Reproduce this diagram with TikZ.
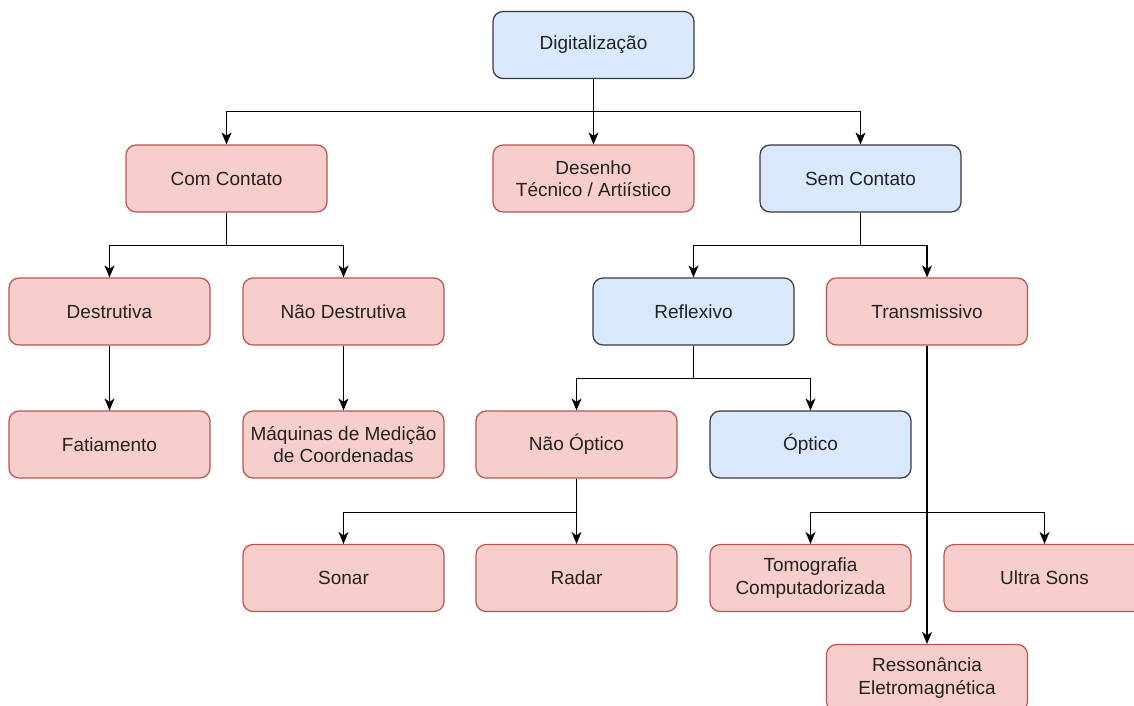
\documentclass[tikz,border=0pt]{standalone}
\usepackage{fontspec}
\setmainfont{Liberation Sans}
\usetikzlibrary{arrows.meta}
\definecolor{blueFill}{HTML}{DAE8FC}
\definecolor{blueLine}{HTML}{36393D}
\definecolor{redFill}{HTML}{F8CECC}
\definecolor{redLine}{HTML}{B85450}
\definecolor{textGray}{HTML}{222222}

\begin{document}
\begin{tikzpicture}
[x=1pt,y=-1pt,%
  boxBase/.style={rectangle,rounded corners=10pt,minimum width=201pt,
    minimum height=67pt,inner sep=0pt,align=center,text=textGray,
    font=\fontsize{19}{22.5}\selectfont,line width=1.2pt},%
  blueBox/.style={boxBase,draw=blueLine,fill=blueFill},%
  redBox/.style={boxBase,draw=redLine,fill=redFill},%
  edgeArrow/.style={-{Stealth[length=12pt,width=10pt,inset=3.5pt]},line width=1.1pt,black}]
\useasboundingbox (0,0) rectangle (1134,706);
\clip (0,0) rectangle (1134,706);
%% boxes of the tree
\node (dig) at (593.5,45) [blueBox] {Digitaliza\c{c}\~ao};
\node (com) at (226.5,178.5) [redBox] {Com Contato};
\node (des) at (593.5,178.5) [redBox] {Desenho\\T\'ecnico / Arti\'istico};
\node (sem) at (860.5,178.5) [blueBox] {Sem Contato};
\node (destr) at (109.5,311.5) [redBox] {Destrutiva};
\node (naoDestr) at (343.5,311.5) [redBox] {N\~ao Destrutiva};
\node (refl) at (693.5,311.5) [blueBox] {Reflexivo};
\node (trans) at (927,311.5) [redBox] {Transmissivo};
\node (fat) at (109.5,444.5) [redBox] {Fatiamento};
\node (maq) at (343.5,444.5) [redBox] {M\'aquinas de Medi\c{c}\~ao\\de Coordenadas};
\node (naoOpt) at (576.5,444.5) [redBox] {N\~ao \'Optico};
\node (opt) at (810.5,444.5) [blueBox] {\'Optico};
\node (sonar) at (343.5,578) [redBox] {Sonar};
\node (radar) at (576.5,578) [redBox] {Radar};
\node (tomo) at (810.5,578) [redBox] {Tomografia\\Computadorizada};
\node (ultra) at (1044.5,578) [redBox] {Ultra Sons};
\node (resson) at (927,678) [redBox] {Resson\^ancia\\Eletromagn\'etica};
%% connectors
\draw[edgeArrow] (dig.south) -- ++(0,32) -| (com.north);
\draw[edgeArrow] (dig.south) -- (des.north);
\draw[edgeArrow] (dig.south) -- ++(0,32) -| (sem.north);
\draw[edgeArrow] (com.south) -- ++(0,33) -| (destr.north);
\draw[edgeArrow] (com.south) -- ++(0,33) -| (naoDestr.north);
\draw[edgeArrow] (destr.south) -- (fat.north);
\draw[edgeArrow] (naoDestr.south) -- (maq.north);
\draw[edgeArrow] (sem.south) -- ++(0,33) -| (refl.north);
\draw[edgeArrow] (sem.south) -- ++(0,33) -| (trans.north);
\draw[edgeArrow] (refl.south) -- ++(0,33) -| (naoOpt.north);
\draw[edgeArrow] (refl.south) -- ++(0,33) -| (opt.north);
\draw[edgeArrow] (naoOpt.south) -- ++(0,34) -| (sonar.north);
\draw[edgeArrow] (naoOpt.south) -- (radar.north);
\draw[edgeArrow] (trans.south) -- ++(0,167) -| (tomo.north);
\draw[edgeArrow] (trans.south) -- ++(0,167) -| (ultra.north);
\draw[edgeArrow] (trans.south) -- (resson.north);
\end{tikzpicture}
\end{document}
